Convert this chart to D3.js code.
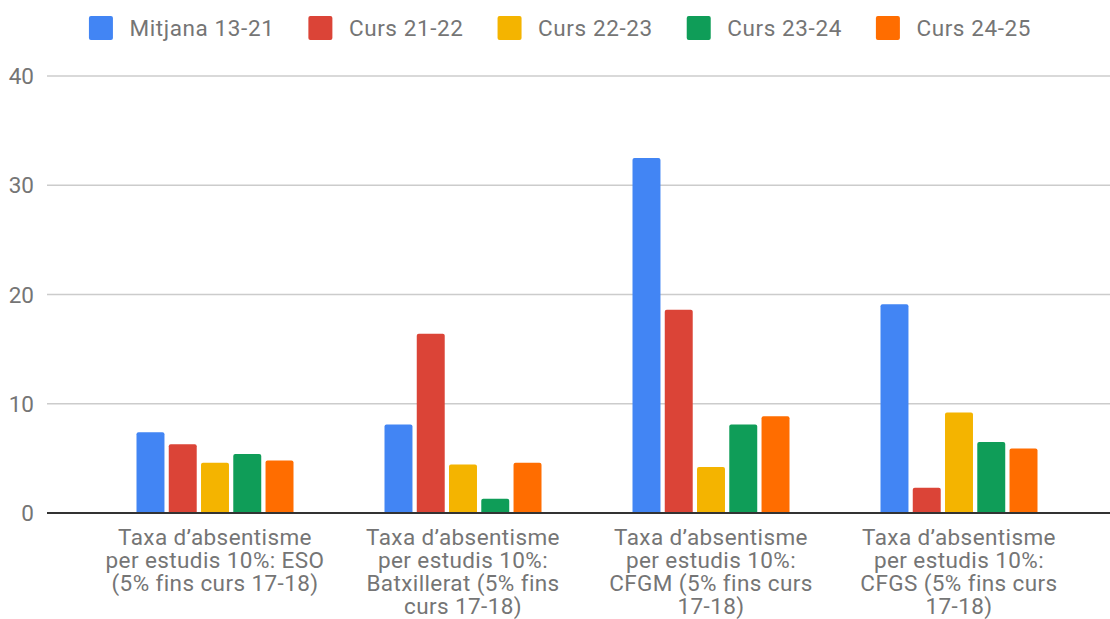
<!DOCTYPE html>
<html lang="ca">
<head>
<meta charset="utf-8">
<script src="https://cdn.jsdelivr.net/npm/d3@7"></script>
<style>
  body { margin: 0; background: #fff; }
  text { font-family: Roboto, "Noto Sans", sans-serif; }
  .grid line { stroke: #cccccc; stroke-width: 1.5; }
</style>
</head>
<body>
<div id="chart"></div>
<script>
// categories (as the label lines shown), series and values
var categories = [
  ["Taxa d\u2019absentisme", "per estudis 10%: ESO", "(5% fins curs 17-18)"],
  ["Taxa d\u2019absentisme", "per estudis 10%:", "Batxillerat (5% fins", "curs 17-18)"],
  ["Taxa d\u2019absentisme", "per estudis 10%:", "CFGM (5% fins curs", "17-18)"],
  ["Taxa d\u2019absentisme", "per estudis 10%:", "CFGS (5% fins curs", "17-18)"]
];
var series = ["Mitjana 13-21", "Curs 21-22", "Curs 22-23", "Curs 23-24", "Curs 24-25"];
var colors = ["#4285f4", "#db4437", "#f4b400", "#0f9d58", "#ff6d00"];

var mitjana = [7.4, 8.1, 32.5, 19.1];
var curs2122 = [6.3, 16.4, 18.6, 2.3];
var curs2223 = [4.6, 4.45, 4.2, 9.2];
var curs2324 = [5.4, 1.3, 8.1, 6.5];
var curs2425 = [4.8, 4.6, 8.85, 5.9];
var yTicks = [0, 10, 20, 30, 40];

var values = [mitjana, curs2122, curs2223, curs2324, curs2425];

var width = 1110, height = 619;
var fs = "22.5px";

var svg = d3.select("#chart").append("svg")
  .attr("width", width)
  .attr("height", height);

var y = d3.scaleLinear().domain([0, 40]).range([513, 76]);

var x0 = d3.scaleBand().domain(d3.range(categories.length)).range([91, 1083]);
var groupW = 157;
var x1 = d3.scaleBand().domain(d3.range(series.length))
  .range([(x0.bandwidth() - groupW) / 2, (x0.bandwidth() + groupW) / 2])
  .paddingInner(0.133);

// gridlines
var grid = svg.append("g").attr("class", "grid");
grid.selectAll("line")
  .data(yTicks.filter(function(d) { return d > 0; }))
  .enter().append("line")
  .attr("x1", 47).attr("x2", width)
  .attr("y1", function(d) { return y(d); })
  .attr("y2", function(d) { return y(d); });

svg.selectAll(".ylab")
  .data(yTicks)
  .enter().append("text")
  .attr("class", "ylab")
  .attr("x", 34)
  .attr("y", function(d) { return y(d); })
  .attr("dy", "0.36em")
  .attr("text-anchor", "end")
  .style("font-size", fs)
  .style("fill", "#757575")
  .text(function(d) { return d; });

// bars
var groups = svg.selectAll(".grp")
  .data(categories)
  .enter().append("g")
  .attr("class", "grp")
  .attr("transform", function(d, i) { return "translate(" + x0(i) + ",0)"; });

groups.selectAll("path")
  .data(function(d, i) { return values.map(function(s, j) { return {s: j, v: s[i]}; }); })
  .enter().append("path")
  .attr("fill", function(d) { return colors[d.s]; })
  .attr("d", function(d) {
    var bx = x1(d.s), bw = x1.bandwidth(), by = y(d.v), b = y(0), r = 2;
    return "M" + bx + "," + b +
      "V" + (by + r) + "Q" + bx + "," + by + " " + (bx + r) + "," + by +
      "H" + (bx + bw - r) + "Q" + (bx + bw) + "," + by + " " + (bx + bw) + "," + (by + r) +
      "V" + b + "Z";
  });

// baseline
svg.append("line")
  .attr("x1", 47).attr("x2", width)
  .attr("y1", y(0)).attr("y2", y(0))
  .attr("stroke", "#333").attr("stroke-width", 2);

// category labels
groups.append("text")
  .attr("text-anchor", "middle")
  .style("font-size", fs)
  .style("letter-spacing", "0.4px")
  .style("fill", "#757575")
  .selectAll("tspan")
  .data(function(d) { return d; })
  .enter().append("tspan")
  .attr("x", x0.bandwidth() / 2)
  .attr("y", function(d, i) { return 544.5 + i * 23.3; })
  .text(function(d) { return d; });

// legend
var legend = svg.append("g");
var lx = 0;
series.forEach(function(s, i) {
  var g = legend.append("g").attr("transform", "translate(" + lx + ",0)");
  g.append("rect")
    .attr("x", 0).attr("y", 16)
    .attr("width", 24).attr("height", 24)
    .attr("rx", 2)
    .attr("fill", colors[i]);
  var t = g.append("text")
    .attr("x", 40.5).attr("y", 36)
    .style("font-size", fs)
    .style("letter-spacing", "0.6px")
    .style("fill", "#757575")
    .text(s);
  lx += 40.5 + t.node().getComputedTextLength() + 34;
});
var lw = lx - 34;
legend.attr("transform", "translate(" + (560 - lw / 2) + ",0)");
</script>
</body>
</html>
